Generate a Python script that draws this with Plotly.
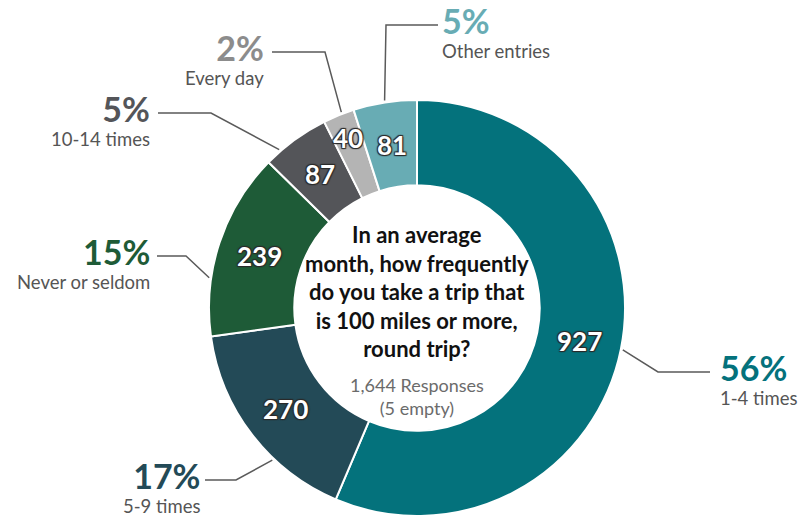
import numpy as np
import plotly.graph_objects as go

# Survey answers, clockwise from 12 o'clock
categories = ["1-4 times", "5-9 times", "Never or seldom", "10-14 times", "Every day", "Other entries"]
counts = [927, 270, 239, 87, 40, 81]
pct_labels = ["56%", "17%", "15%", "5%", "2%", "5%"]
question = "In an average<br>month, how frequently<br>do you take a trip that<br>is 100 miles or more,<br>round trip?"
responses_note = "1,644 Responses<br>(5 empty)"

slice_colors = ["#04727c", "#234a57", "#1e5b37", "#545559", "#b4b4b4", "#68acb4"]
pct_colors = ["#04727c", "#234a57", "#1e5b37", "#545559", "#8c8c8c", "#68acb4"]

W, H = 807, 516
CX, CY, R_OUT, HOLE = 417, 308, 208, 0.59
R_IN = R_OUT * HOLE

# leader line elbows / ends and label anchors (pixel space)
elbows = [(658, 372), (236, 480), (186, 256), (211, 113), (325, 52), (386, 25)]
line_ends = [(710, 372), (205, 480), (157, 256), (158, 113), (272, 52), (438, 25)]
label_x = [718, 202, 152, 152, 266, 440]
label_side = ["left", "right", "right", "right", "right", "left"]
angle_shift = [0, -9, -10, -5, 1, 0]

fig = go.Figure()

fig.add_trace(go.Pie(
    values=counts,
    labels=categories,
    sort=False,
    direction="clockwise",
    rotation=0,
    hole=HOLE,
    marker=dict(colors=slice_colors, line=dict(color="white", width=2)),
    textinfo="none",
    hoverinfo="label+value",
    showlegend=False,
    domain=dict(x=[(CX - R_OUT) / W, (CX + R_OUT) / W], y=[(H - CY - R_OUT) / H, (H - CY + R_OUT) / H]),
))

total = sum(counts)
cum = np.cumsum([0] + counts)
mid_frac = [(cum[i] + counts[i] / 2) / total for i in range(len(counts))]

outline = "1px 1px 1px #2a2a2a, -1px -1px 1px #2a2a2a, 1px -1px 1px #2a2a2a, -1px 1px 1px #2a2a2a"
annotations = []
shapes = []
for i, (cat, n) in enumerate(zip(categories, counts)):
    ang = np.radians(mid_frac[i] * 360)
    r_txt = (R_IN + R_OUT) / 2 if n / total > 0.03 else R_OUT - 24
    annotations.append(dict(
        x=CX + r_txt * np.sin(ang), y=CY - r_txt * np.cos(ang),
        text=str(n), showarrow=False, xref="x", yref="y",
        font=dict(family="Lato", size=26, color="white", weight="bold", shadow=outline),
    ))
    # leader line
    a2 = np.radians(mid_frac[i] * 360 + angle_shift[i])
    sx, sy = CX + (R_OUT + 2) * np.sin(a2), CY - (R_OUT + 2) * np.cos(a2)
    ex, ey = elbows[i]
    lx, ly = line_ends[i]
    shapes.append(dict(type="path", xref="x", yref="y",
                       path=f"M {sx:.1f},{sy:.1f} L {ex},{ey} L {lx},{ly}",
                       line=dict(color="#5a5a5a", width=1.5)))
    label = (f"<span style='font-size:34px;font-weight:bold;color:{pct_colors[i]}'>"
             f"{pct_labels[i]}</span><br>{cat}")
    annotations.append(dict(
        x=label_x[i] / W, y=1 - (ly - 27) / H, text=label, showarrow=False,
        xref="paper", yref="paper",
        xanchor=label_side[i], yanchor="top", align=label_side[i],
        font=dict(family="Lato", size=18.5, color="#555555"),
    ))

annotations.append(dict(
    x=CX, y=291, text=question, showarrow=False, xref="x", yref="y",
    yanchor="middle", align="center",
    font=dict(family="Lato", size=22, color="#111111", weight="bold"),
))
annotations.append(dict(
    x=CX, y=396, text=responses_note, showarrow=False, xref="x", yref="y",
    yanchor="middle", align="center",
    font=dict(family="Lato", size=18, color="#6b6b6b"),
))

fig.update_layout(
    width=W, height=H,
    margin=dict(l=0, r=0, t=0, b=0),
    paper_bgcolor="white", plot_bgcolor="rgba(0,0,0,0)",
    xaxis=dict(range=[0, W], visible=False, fixedrange=True),
    yaxis=dict(range=[H, 0], visible=False, fixedrange=True),
    shapes=shapes,
    annotations=annotations,
)

fig.write_html("out.html", config={"displayModeBar": False},
               post_script="document.body.style.margin='0';")
